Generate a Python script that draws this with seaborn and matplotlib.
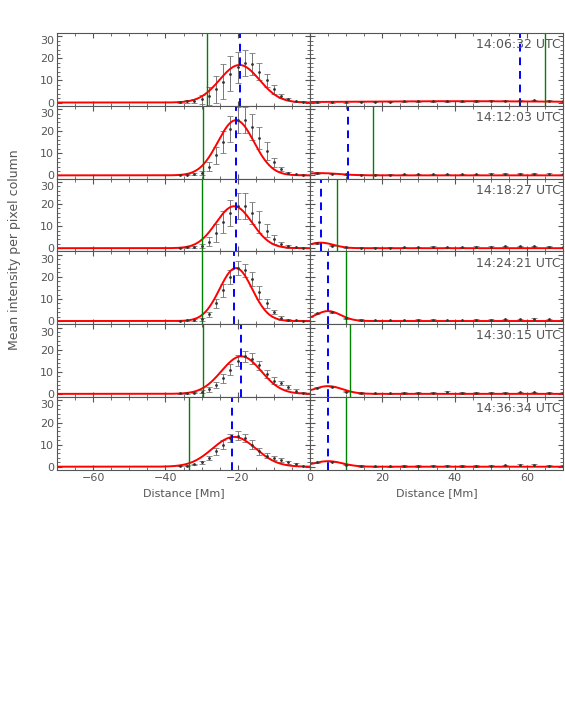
import numpy as np
import pandas as pd
import seaborn as sns
import matplotlib.pyplot as plt
from matplotlib.ticker import MultipleLocator

# Dados -------------------------------------------------------------------

horas = ["14:06:32 UTC", "14:12:03 UTC", "14:18:27 UTC",
         "14:24:21 UTC", "14:30:15 UTC", "14:36:34 UTC"]

x_esq = np.arange(-36, -1, 2)
media_esq = [
    [0.3, 0.5, 0.8, 1.5, 3, 6, 9.5, 13, 16, 18, 17.5, 14, 10, 6, 3, 1.5, 0.6, 0.3],
    [0.2, 0.3, 0.5, 1.0, 4, 9, 15, 21, 25, 25, 22, 17, 11, 6, 3, 1.2, 0.5, 0.2],
    [0.3, 0.4, 0.6, 1.0, 3, 7, 12, 16, 19, 19, 16, 12, 8, 4, 2, 0.8, 0.4, 0.2],
    [0.2, 0.3, 0.5, 0.8, 3, 8, 14, 20, 24, 23, 19, 13, 8, 4, 1.5, 0.6, 0.3, 0.1],
    [0.3, 0.4, 0.6, 1.0, 2, 4, 7, 11, 15, 17, 16, 13, 9, 6, 5, 3, 1.5, 0.5],
    [0.3, 0.5, 1.0, 2.0, 4, 7, 10, 13, 14, 13, 10, 7, 5, 4, 3, 2, 1, 0.3],
]
erro_esq = [
    [0.3, 0.5, 1, 2, 4, 6, 8, 8, 7, 6, 5, 4, 3, 2, 1, 0.5, 0.3, 0.2],
    [0.2, 0.3, 0.5, 1, 2, 4, 5, 6, 6, 6, 6, 5, 4, 2, 1, 0.5, 0.3, 0.2],
    [0.2, 0.3, 0.5, 1, 2, 4, 5, 6, 6, 6, 5, 5, 3, 2, 1, 0.5, 0.3, 0.2],
    [0.2, 0.3, 0.4, 0.6, 1, 2, 3, 3, 3, 3, 3, 3, 2, 1, 1, 0.5, 0.3, 0.2],
    [0.2, 0.3, 0.4, 0.6, 1, 1.5, 2, 2.5, 2.5, 2.5, 2.5, 2, 2, 1.5, 1, 1, 0.5, 0.2],
    [0.2, 0.3, 0.4, 0.6, 1, 1.5, 2, 2, 2, 2, 2, 1.5, 1, 1, 1, 0.8, 0.5, 0.2],
]
x_dir = np.arange(2, 71, 4)
media_dir = [
    [0.3, 0.3, 0.3, 0.4, 0.4, 0.4, 0.5, 0.5, 0.6, 0.6, 0.6, 0.7, 0.8, 0.8, 0.9, 1.0, 0.8, 0.5],
    [1.0, 0.8, 0.4, 0.3, 0.3, 0.3, 0.4, 0.4, 0.5, 0.4, 0.4, 0.5, 0.6, 0.7, 0.8, 0.8, 0.6, 0.4],
    [2.3, 1.2, 0.4, 0.3, 0.3, 0.3, 0.4, 0.4, 0.5, 0.4, 0.4, 0.5, 0.6, 0.8, 0.9, 0.9, 0.7, 0.4],
    [3.5, 4.0, 1.2, 0.4, 0.3, 0.3, 0.3, 0.4, 0.4, 0.3, 0.3, 0.4, 0.5, 0.7, 0.8, 0.9, 0.7, 0.4],
    [2.8, 3.2, 1.0, 0.4, 0.3, 0.3, 0.4, 0.5, 0.5, 0.8, 0.4, 0.4, 0.5, 0.6, 0.7, 0.7, 0.6, 0.4],
    [2.0, 2.3, 0.9, 0.3, 0.2, 0.2, 0.3, 0.3, 0.4, 0.5, 0.3, 0.3, 0.4, 0.6, 0.7, 0.7, 0.5, 0.3],
]

# ajuste gaussiano: amplitude, centro, largura (esq. e dir.)
ajuste_esq = [(17, -19.5, 5.5), (25, -20.5, 5.0), (19, -21, 5.0),
              (24, -20.5, 4.5), (17, -19, 5.5), (13.5, -21, 6.0)]
ajuste_dir = [(0.6, 40, 30), (1.0, 3, 5), (2.5, 3, 3.5),
              (4.5, 5, 3.5), (3.5, 5, 4), (2.5, 5, 4)]

azul_esq = [-19.5, -20.5, -20.5, -21, -19, -21.5]
verde_esq = [-28.5, -29.5, -30, -30, -29.5, -33.5]
azul_dir = [58, 10.5, 3, 5, 5, 5]
verde_dir = [65, 17.5, 7.5, 10, 11, 10]

# Figura -------------------------------------------------------------------

sns.set_style("ticks")
plt.rcParams['font.family'] = ['DejaVu Sans']
cinza = "#555555"

fig = plt.figure(figsize=(5.65, 7.07), dpi=100)
gs = fig.add_gridspec(6, 2, left=57/565, right=563/565, top=1-33/707,
                      bottom=1-470/707, hspace=0, wspace=0)


def painel(ax, x, m, e, fit, azul, verde, xlim):
    ax.errorbar(x, m, yerr=e, fmt='o', ms=1, color='#333333', ecolor='#777777',
                elinewidth=0.7, capsize=2, capthick=0.6)
    xx = np.linspace(xlim[0], xlim[1], 300)
    a, c, w = fit
    sns.lineplot(x=xx, y=a * np.exp(-(xx - c) ** 2 / (2 * w ** 2)), ax=ax,
                 color='red', lw=1.4)
    ax.axvline(verde, color='green', lw=1)
    ax.axvline(azul, color='blue', lw=1.4, ls=(0, (4, 3)))
    ax.set_yticks([0, 10, 20, 30])
    ax.yaxis.set_minor_locator(MultipleLocator(2))
    ax.xaxis.set_major_locator(MultipleLocator(20))
    ax.xaxis.set_minor_locator(MultipleLocator(5))
    ax.set_xlim(xlim)
    ax.set_ylim(-1.5, 31.5)
    ax.tick_params(which='both', direction='in', top=True, right=True,
                   colors=cinza, labelsize=8, pad=2)
    for s in ax.spines.values():
        s.set_color(cinza)


for i in range(6):
    ae = fig.add_subplot(gs[i, 0])
    ad = fig.add_subplot(gs[i, 1])
    painel(ae, x_esq, media_esq[i], erro_esq[i], ajuste_esq[i],
           azul_esq[i], verde_esq[i], (-70, 0))
    painel(ad, x_dir, media_dir[i], [0.3] * len(x_dir), ajuste_dir[i],
           azul_dir[i], verde_dir[i], (0, 70))
    ae.get_yticklabels()[-1].set_verticalalignment('top')
    ad.set_yticklabels([])
    ad.text(0.99, 0.93, horas[i], transform=ad.transAxes, ha='right', va='top',
            color=cinza, fontsize=9)
    if i < 5:
        ae.set_xticklabels([])
        ad.set_xticklabels([])
    else:
        ae.set_xticks([-60, -40, -20])
        ae.set_xlim(-70, 0)
        ae.set_xlabel("Distance [Mm]", color=cinza, fontsize=8)
        ad.set_xlabel("Distance [Mm]", color=cinza, fontsize=8)

fig.text(0.025, 1 - 250/707, "Mean intensity per pixel column", rotation=90,
         ha='center', va='center', color=cinza, fontsize=9)

plt.savefig("out.png")
